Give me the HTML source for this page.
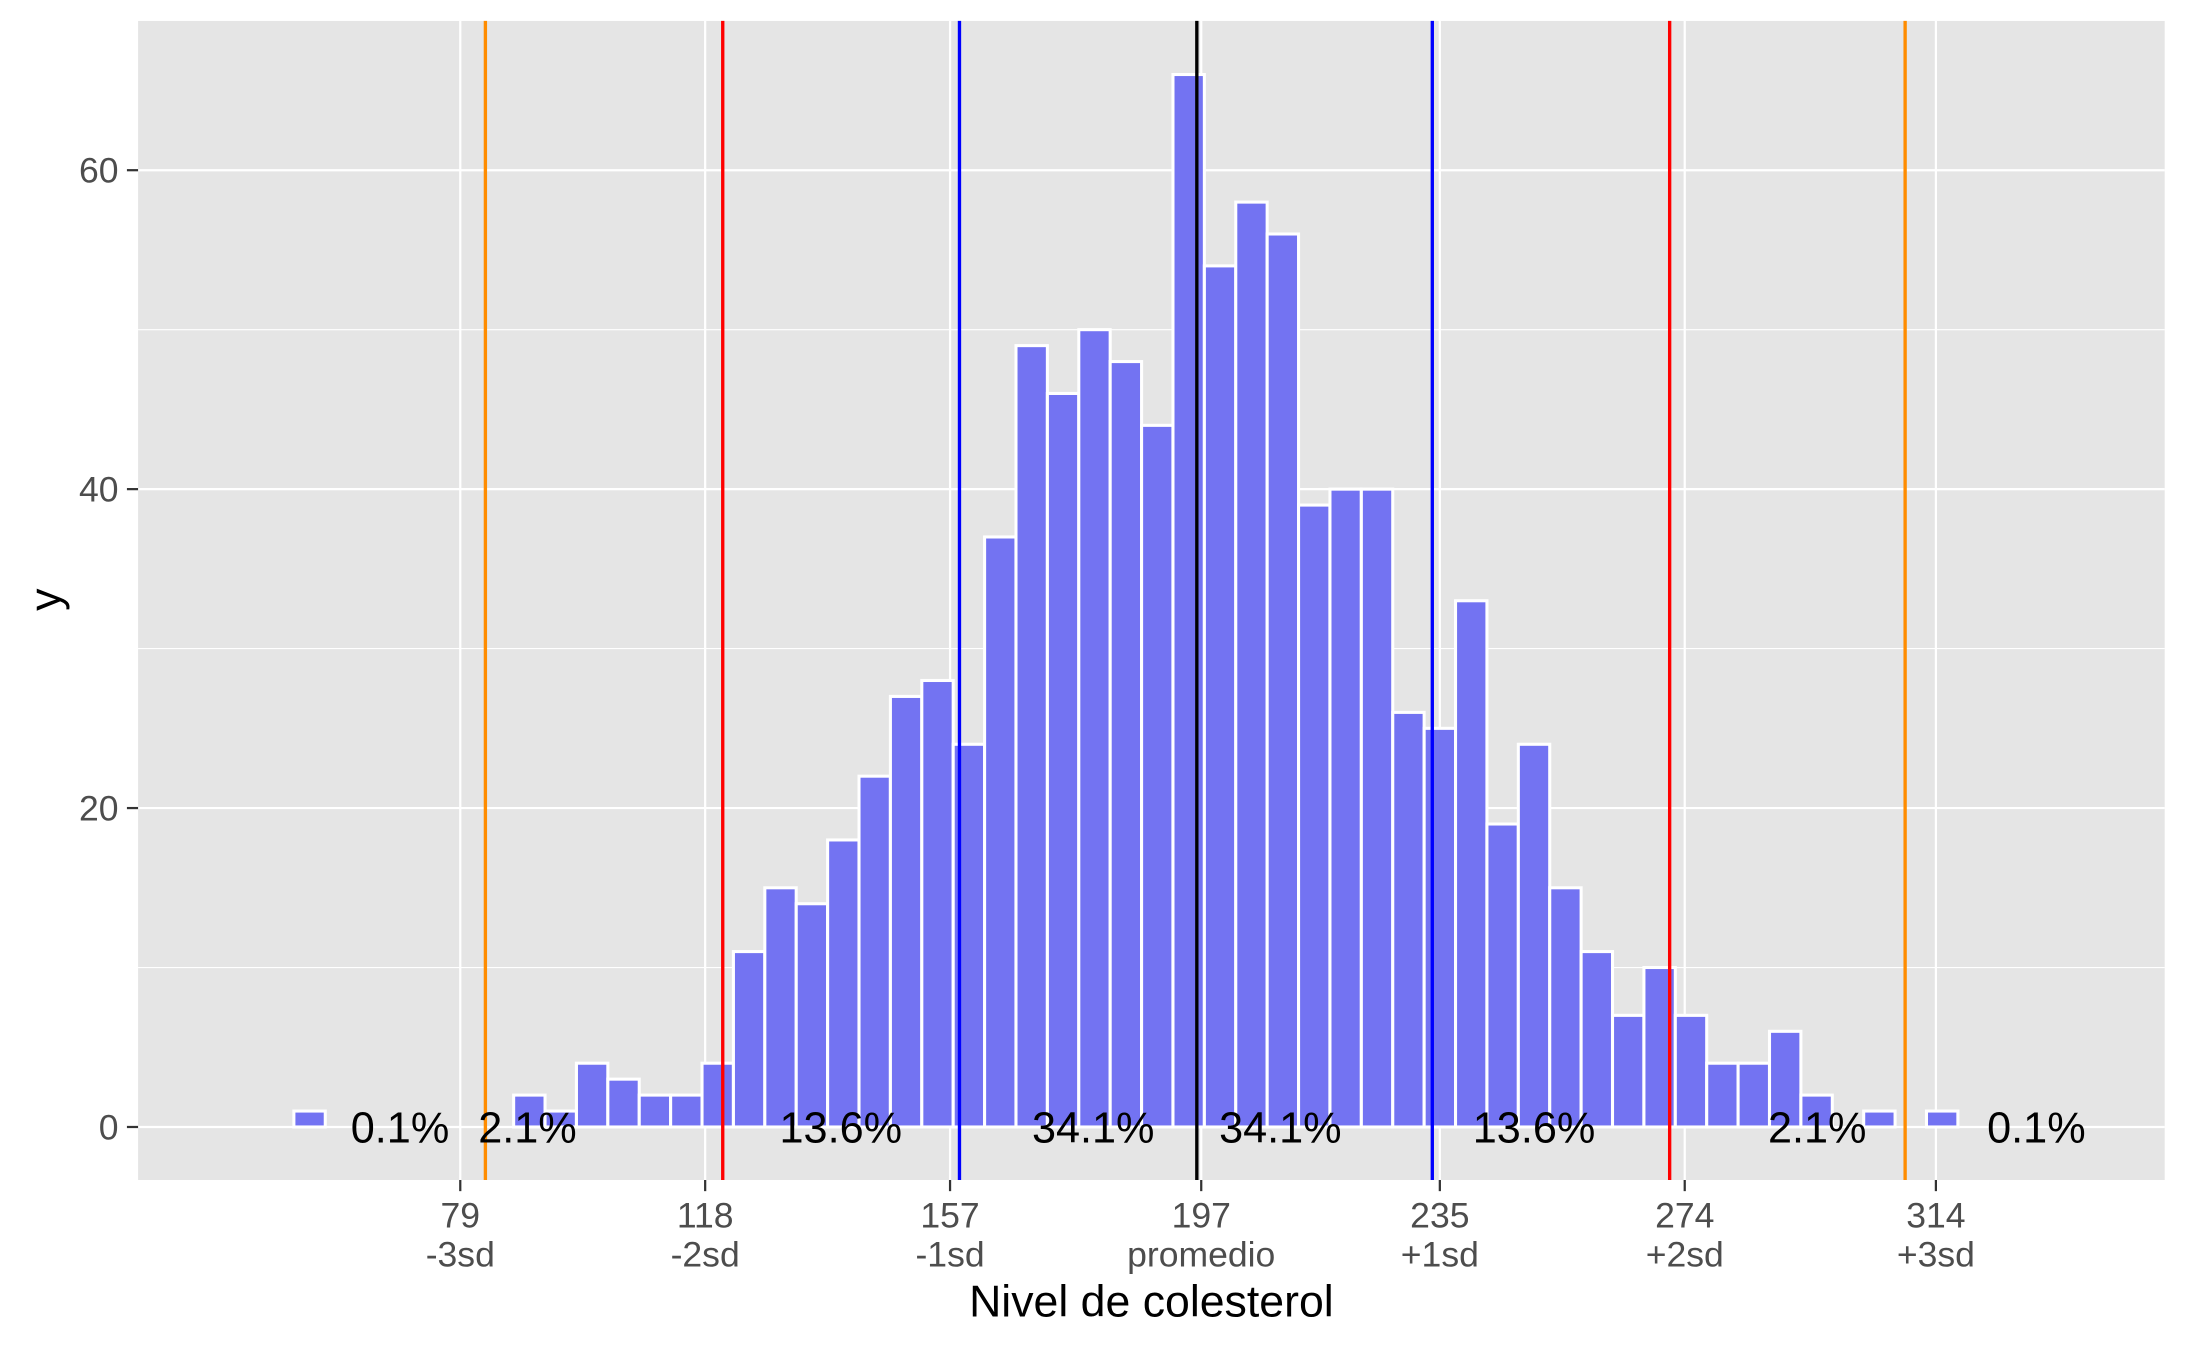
<!DOCTYPE html>
<html><head><meta charset="utf-8"><style>
html,body{margin:0;padding:0;background:#fff;}
svg{display:block;font-family:"Liberation Sans",Arial,sans-serif;}
</style></head><body>
<svg id="chart" width="2187" height="1351" viewBox="0 0 1568 968.6" xmlns="http://www.w3.org/2000/svg"></svg>
<script>
const binCenters = [55,90,95,100,105,110,115,120,125,130,135,140,145,150,155,160,165,170,175,180,185,190,195,200,205,210,215,220,225,230,235,240,245,250,255,260,265,270,275,280,285,290,295,300,305,310,315];
const binCounts  = [1,2,1,4,3,2,2,4,11,15,14,18,22,27,28,24,37,49,46,50,48,44,66,54,58,56,39,40,40,26,25,33,19,24,15,11,7,10,7,4,4,6,2,0,1,0,1];
const binWidth = 5;
const tickValues = [79,118,157,197,235,274,314];
const tickLabels = ["79","118","157","197","235","274","314"];
const tickSubLabels = ["-3sd","-2sd","-1sd","promedio","+1sd","+2sd","+3sd"];
const refLineValues = [83.0,120.8,158.5,196.3,233.8,271.6,309.1];
const refLineColors = ["#ff8c00","#ff0000","#0000ff","#000000","#0000ff","#ff0000","#ff8c00"];
const pctLabels = ["0.1%","2.1%","13.6%","34.1%","34.1%","13.6%","2.1%","0.1%"];
const pctLabelX = [69.4,89.7,139.6,179.8,209.6,250.0,295.1,330.0];
const yTicks = [0,20,40,60];
const yMinor = [10,30,50];

const NS="http://www.w3.org/2000/svg";
const svg=document.getElementById('chart');
const PL=99,PR=1552,PT=15,PB=846;
const px=v=>330+(v-79)*4.502;
const py=v=>808-v*11.433;
function mk(tag,attrs,parent){const e=document.createElementNS(NS,tag);for(const k in attrs)e.setAttribute(k,attrs[k]);(parent||svg).appendChild(e);return e;}

const panel=mk('rect',{x:PL,y:PT,width:PR-PL,height:PB-PT,fill:'#e5e5e5'});



yMinor.forEach(v=>{const l=mk('line',{x1:PL,x2:PR,y1:py(v),y2:py(v),stroke:'#fff','stroke-width':0.8});

});
yTicks.forEach(v=>{const l=mk('line',{x1:PL,x2:PR,y1:py(v),y2:py(v),stroke:'#fff','stroke-width':1.6});

});
tickValues.forEach(v=>{const l=mk('line',{x1:px(v),x2:px(v),y1:PT,y2:PB,stroke:'#fff','stroke-width':1.6});

});

binCenters.forEach((c,i)=>{const n=binCounts[i];if(n<=0)return;
const x0=px(c-binWidth/2),x1=px(c+binWidth/2);
const r=mk('rect',{x:x0,y:py(n),width:x1-x0,height:py(0)-py(n),fill:'#7373f2',stroke:'#fff','stroke-width':2.2});

});

refLineValues.forEach((v,i)=>{const l=mk('line',{x1:px(v),x2:px(v),y1:PT,y2:PB,stroke:refLineColors[i],'stroke-width':2.4});

});

pctLabels.forEach((t,i)=>{const e=mk('text',{x:px(pctLabelX[i]),y:py(0)+11,'font-size':31,'text-anchor':'middle',fill:'#000'});e.textContent=t;

});

yTicks.forEach(v=>{const t=mk('line',{x1:PL-8,x2:PL,y1:py(v),y2:py(v),stroke:'#333','stroke-width':1.6});


const e=mk('text',{x:PL-14,y:py(v)+9,'font-size':25.5,'text-anchor':'end',fill:'#4d4d4d'});e.textContent=v;

});

tickValues.forEach((v,i)=>{const t=mk('line',{x1:px(v),x2:px(v),y1:PB,y2:PB+8,stroke:'#333','stroke-width':1.6});


const e=mk('text',{x:px(v),y:880,'font-size':25.5,'text-anchor':'middle',fill:'#4d4d4d'});e.textContent=tickLabels[i];


const s=mk('text',{x:px(v),y:908,'font-size':25.5,'text-anchor':'middle',fill:'#4d4d4d'});s.textContent=tickSubLabels[i];

});

const xt=mk('text',{x:(PL+PR)/2,y:944,'font-size':32,'text-anchor':'middle',fill:'#000'});xt.textContent='Nivel de colesterol';


const yt=mk('text',{x:0,y:0,'font-size':32,'text-anchor':'middle',fill:'#000',transform:'translate(43,430) rotate(-90)'});yt.textContent='y';


</script>
</body></html>
